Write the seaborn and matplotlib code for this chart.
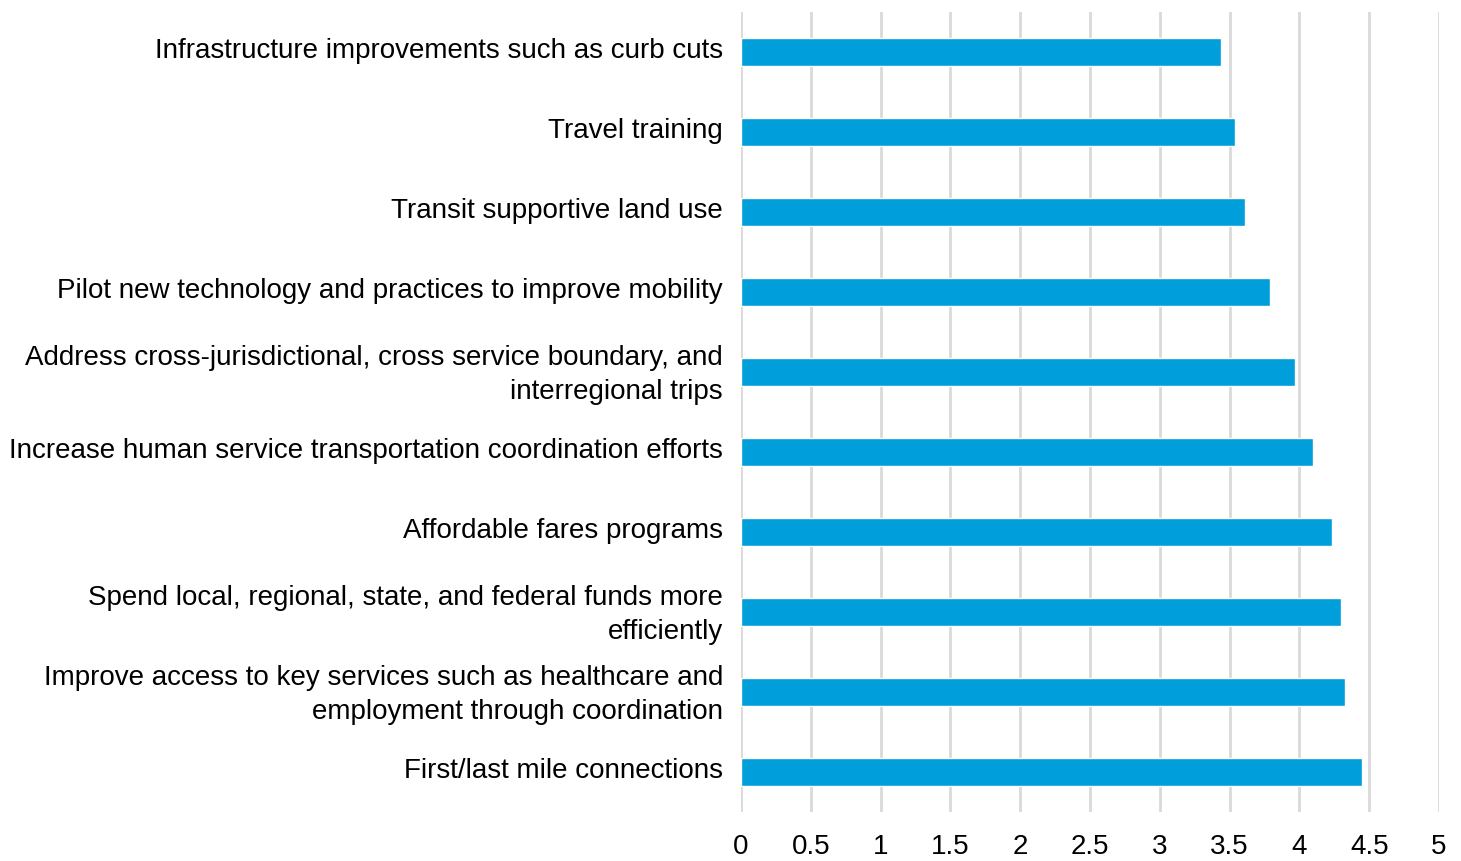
import matplotlib

matplotlib.use("Agg")
import matplotlib.pyplot as plt
import matplotlib.transforms as mtransforms
import pandas as pd
import seaborn as sns

# Strategy labels, top to bottom as they appear in the chart
strategies = [
    "Infrastructure improvements such as curb cuts",
    "Travel training",
    "Transit supportive land use",
    "Pilot new technology and practices to improve mobility",
    "Address cross-jurisdictional, cross service boundary, and\ninterregional trips",
    "Increase human service transportation coordination efforts",
    "Affordable fares programs",
    "Spend local, regional, state, and federal funds more\nefficiently",
    "Improve access to key services such as healthcare and\nemployment through coordination",
    "First/last mile connections",
]
scores = [3.44, 3.54, 3.61, 3.79, 3.97, 4.10, 4.235, 4.30, 4.325, 4.45]
x_ticks = [0, 0.5, 1, 1.5, 2, 2.5, 3, 3.5, 4, 4.5, 5]
x_tick_labels = ["0", "0.5", "1", "1.5", "2", "2.5", "3", "3.5", "4", "4.5", "5"]

df = pd.DataFrame({"strategy": strategies, "score": scores})

sns.set_style("white")
plt.rcParams["font.family"] = ["Liberation Sans", "DejaVu Sans"]

fig = plt.figure(figsize=(14.61, 8.61), dpi=100)
ax = fig.add_axes([741 / 1461, 49 / 861, 698 / 1461, 800 / 861])

sns.barplot(
    data=df, x="score", y="strategy", orient="h",
    color="#009EDB", saturation=1, width=0.35, ax=ax, zorder=3,
)

ax.set_xlim(0, 5)
ax.set_ylim(9.5, -0.5)
ax.set_xticks(x_ticks)
ax.set_xticklabels(x_tick_labels)
ax.xaxis.grid(True, color="#D9D9D9", linewidth=2, zorder=0)
ax.set_axisbelow(True)
ax.set_xlabel("")
ax.set_ylabel("")
for side in ["top", "right", "bottom", "left"]:
    ax.spines[side].set_visible(False)

ax.tick_params(axis="x", length=0, pad=16, labelsize=20, labelcolor="#000000")
ax.tick_params(axis="y", length=0, pad=13, labelsize=20, labelcolor="#000000")
# labels sit a few pixels above the bar centres in the original
shift = mtransforms.ScaledTranslation(0, 4 / 100, fig.dpi_scale_trans)
for lbl in ax.get_yticklabels():
    lbl.set_horizontalalignment("right")
    lbl.set_multialignment("right")
    lbl.set_linespacing(1.38)
    lbl.set_transform(lbl.get_transform() + shift)

fig.savefig("out.png", dpi=100)
plt.close(fig)
